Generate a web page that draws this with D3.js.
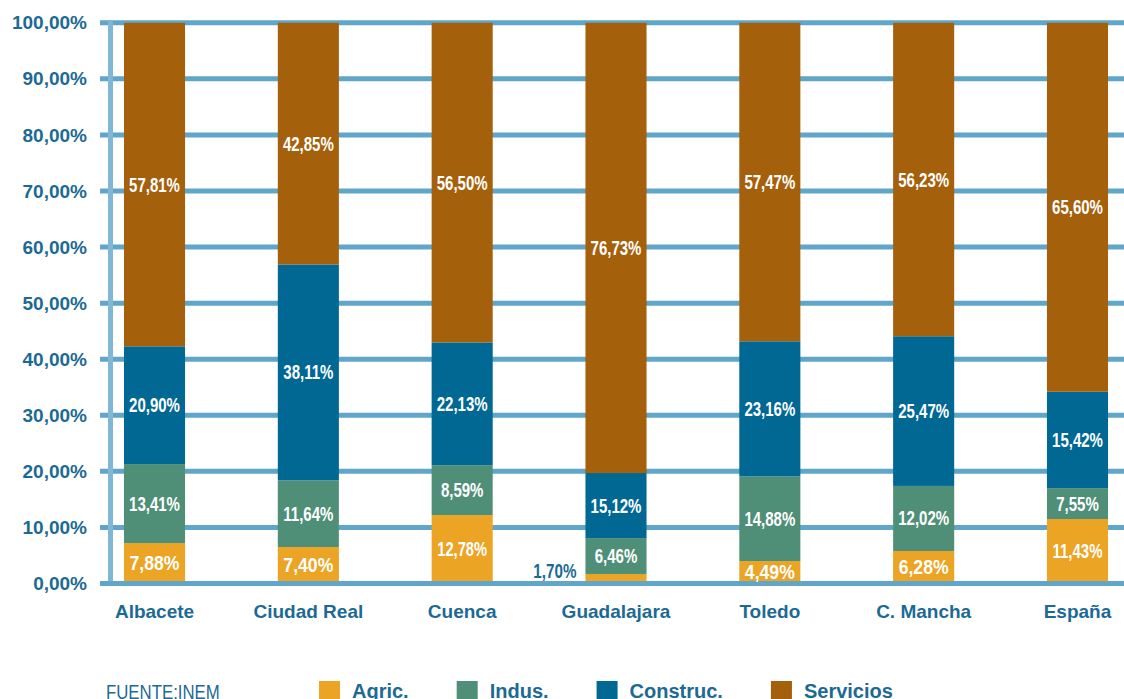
<!DOCTYPE html>
<html>
<head>
<meta charset="utf-8">
<script src="https://cdn.jsdelivr.net/npm/d3@7/dist/d3.min.js"></script>
<style>
  html, body { margin: 0; padding: 0; background: #ffffff; overflow: hidden; }
  svg { display: block; font-family: "Liberation Sans", Arial, Helvetica, sans-serif; }
</style>
</head>
<body>
<svg id="chart" width="1124" height="699"></svg>
<script>
// ---------------- data ----------------
const categories = ["Albacete", "Ciudad Real", "Cuenca", "Guadalajara", "Toledo", "C. Mancha", "España"];
const seriesNames = ["Agric.", "Indus.", "Construc.", "Servicios"];

// segment heights as drawn (percent of 100%)
const agric     = [7.2, 6.5, 12.2, 1.7, 4.0, 5.8, 11.5];
const indus     = [14.1, 11.9, 8.9, 6.4, 15.1, 11.6, 5.5];
const construc  = [21.0, 38.5, 21.9, 11.6, 24.1, 26.7, 17.2];
const servicios = [57.7, 43.1, 57.0, 80.3, 56.8, 55.9, 65.8];

// data labels as printed on the chart
const agricLabels     = ["7,88%", "7,40%", "12,78%", "1,70%", "4,49%", "6,28%", "11,43%"];
const indusLabels     = ["13,41%", "11,64%", "8,59%", "6,46%", "14,88%", "12,02%", "7,55%"];
const construcLabels  = ["20,90%", "38,11%", "22,13%", "15,12%", "23,16%", "25,47%", "15,42%"];
const serviciosLabels = ["57,81%", "42,85%", "56,50%", "76,73%", "57,47%", "56,23%", "65,60%"];

const yTicks = [0, 10, 20, 30, 40, 50, 60, 70, 80, 90, 100];
const sourceText = "FUENTE:INEM";

// ---------------- styles ----------------
const colors = ["#eba424", "#4f8f78", "#006893", "#a5600c"];
const textBlue = "#1c6a94";
const gridColor = "#5fa6ca";
const axisColor = "#80b7d6";

const seriesValues = [agric, indus, construc, servicios];
const seriesLabels = [agricLabels, indusLabels, construcLabels, serviciosLabels];

const svg = d3.select("#chart");
const W = 1124;

const x = d3.scaleBand()
  .domain(categories)
  .range([77.6, 1154.4])
  .paddingInner(0.603)
  .paddingOuter(0.3015);

const y = d3.scaleLinear().domain([0, 100]).range([583.5, 22.8]);

const locale = d3.formatLocale({ decimal: ",", thousands: ".", grouping: [3], currency: ["", "€"] });
const fmt = locale.format(".2f");

// rows for stacking
const rows = categories.map((c, i) => {
  const r = { cat: c };
  seriesNames.forEach((s, k) => { r[s] = seriesValues[k][i]; });
  return r;
});
const stack = d3.stack().keys(seriesNames)(rows);

// gridlines (except zero)
svg.append("g").selectAll("line")
  .data(yTicks.filter(t => t !== 0))
  .join("line")
  .attr("x1", 100).attr("x2", W)
  .attr("y1", d => y(d)).attr("y2", d => y(d))
  .attr("stroke", gridColor).attr("stroke-width", 5);

// vertical axis line
svg.append("line")
  .attr("x1", 110.5).attr("x2", 110.5)
  .attr("y1", y(100) - 2.5).attr("y2", y(0) + 2.5)
  .attr("stroke", axisColor).attr("stroke-width", 5);

// bars
const layers = svg.append("g").selectAll("g")
  .data(stack)
  .join("g")
  .attr("fill", (d, k) => colors[k]);

layers.selectAll("rect")
  .data(d => d)
  .join("rect")
  .attr("x", d => x(d.data.cat))
  .attr("width", x.bandwidth())
  .attr("y", d => y(d[1]))
  .attr("height", d => y(d[0]) - y(d[1]));

// zero line on top
svg.append("line")
  .attr("x1", 100).attr("x2", W)
  .attr("y1", y(0)).attr("y2", y(0))
  .attr("stroke", gridColor).attr("stroke-width", 5);

// y axis labels
const yAxis = svg.append("g")
  .attr("transform", "translate(110.5,0)")
  .call(d3.axisLeft(y).tickValues(yTicks).tickSize(0).tickPadding(23.5).tickFormat(d => fmt(d) + "%"));
yAxis.select(".domain").remove();
yAxis.selectAll("text")
  .attr("fill", textBlue)
  .style("font-family", "'Liberation Sans', Arial, sans-serif")
  .style("font-size", "19px")
  .style("font-weight", "bold");

// x axis labels
const xAxis = svg.append("g")
  .attr("transform", `translate(0,${y(0)})`)
  .call(d3.axisBottom(x).tickSize(0).tickPadding(21));
xAxis.select(".domain").remove();
xAxis.selectAll("text")
  .attr("fill", textBlue)
  .style("font-family", "'Liberation Sans', Arial, sans-serif")
  .style("font-size", "19px")
  .style("font-weight", "bold");

// data labels
const labelG = svg.append("g")
  .style("font-family", "'Liberation Sans', Arial, sans-serif")
  .style("font-size", "19.5px")
  .style("font-weight", "bold");

stack.forEach((layer, k) => {
  layer.forEach((seg, i) => {
    const txt = seriesLabels[k][i];
    const cx = x(seg.data.cat) + x.bandwidth() / 2;
    const y0 = y(seg[0]), y1 = y(seg[1]);
    const h = y0 - y1;
    const cy = (y0 + y1) / 2;
    const t = labelG.append("text")
      .attr("text-anchor", "middle")
      .attr("dy", "0.36em")
      .attr("fill", "#ffffff")
      .text(txt);
    const len = t.node().getComputedTextLength();
    let sx = 0.77;
    if (k === 0) sx = Math.min(0.95, 50 / len);
    if (h < 14) {
      // too small: place label to the left of the bar
      t.attr("fill", textBlue).attr("text-anchor", "end");
      sx = 0.78;
      t.attr("transform", `translate(${x(seg.data.cat) - 9},${y(0) - 13}) scale(${sx},1)`);
    } else {
      t.attr("transform", `translate(${cx},${cy}) scale(${sx},1)`);
    }
  });
});

// source
svg.append("text")
  .attr("transform", "translate(106,699) scale(0.84,1)")
  .attr("fill", textBlue)
  .style("font-size", "20px")
  .text(sourceText);

// legend
const legend = svg.append("g")
  .style("font-family", "'Liberation Sans', Arial, sans-serif")
  .style("font-size", "20px")
  .style("font-weight", "bold");
let lx = 319;
seriesNames.forEach((name, k) => {
  legend.append("rect")
    .attr("x", lx).attr("y", 681)
    .attr("width", 21).attr("height", 21)
    .attr("fill", colors[k]);
  const t = legend.append("text")
    .attr("x", lx + 33).attr("y", 698)
    .attr("fill", textBlue)
    .text(name);
  lx += 33 + t.node().getComputedTextLength() + 48;
});
</script>
</body>
</html>
